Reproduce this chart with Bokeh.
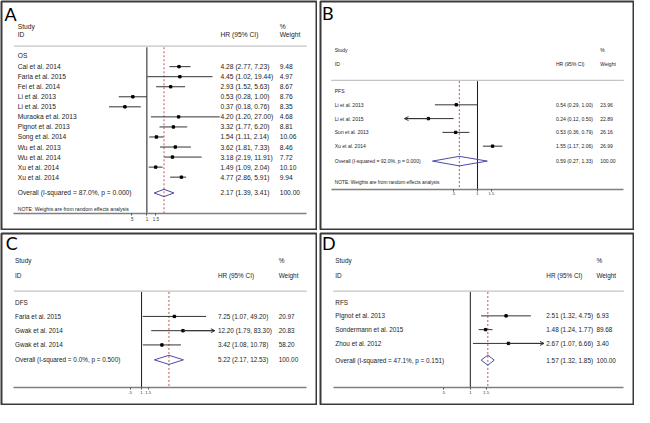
import math
from bokeh.plotting import figure
from bokeh.layouts import gridplot
from bokeh.models import Range1d, LogScale, LogAxis, FixedTicker, ColumnDataSource, Arrow, OpenHead
from bokeh.core.properties import value
from bokeh.embed import file_html
from bokeh.resources import INLINE

# ---------------- data ----------------
A_group = "OS"
A_studies = ["Cai et al. 2014", "Faria et al. 2015", "Fei et al. 2014", "Li et al. 2013",
             "Li et al. 2015", "Muraoka et al. 2013", "Pignot et al. 2013", "Song et al. 2014",
             "Wu et al. 2013", "Wu et al. 2014", "Xu et al. 2014", "Xu et al. 2014"]
A_hr = [4.28, 4.45, 2.93, 0.53, 0.37, 4.20, 3.32, 1.54, 3.62, 3.18, 1.49, 4.77]
A_lo = [2.77, 1.02, 1.52, 0.28, 0.18, 1.20, 1.77, 1.11, 1.81, 2.19, 1.09, 2.86]
A_hi = [7.23, 19.44, 5.63, 1.00, 0.76, 27.00, 6.20, 2.14, 7.33, 11.91, 2.04, 5.91]
A_wt = [9.48, 4.97, 8.67, 8.76, 8.35, 4.68, 8.81, 10.06, 8.46, 7.72, 10.10, 9.94]
A_clip = [0, 0, 0, 0, 0, 0, 0, 0, 0, 0, 0, 0]
A_overall = [2.17, 1.39, 3.41]   # HR, lower, upper
A_het = [87.0, 0.000]            # I-squared %, p

B_group = "PFS"
B_studies = ["Li et al. 2013", "Li et al. 2015", "Sun et al. 2013", "Xu et al. 2014"]
B_hr = [0.54, 0.24, 0.53, 1.55]
B_lo = [0.29, 0.12, 0.36, 1.17]
B_hi = [1.00, 0.50, 0.79, 2.06]
B_wt = [23.96, 22.89, 26.16, 26.99]
B_clip = [0, -1, 0, 0]
B_overall = [0.59, 0.27, 1.33]
B_het = [92.0, 0.000]

C_group = "DFS"
C_studies = ["Faria et al. 2015", "Gwak et al. 2014", "Gwak et al. 2014"]
C_hr = [7.25, 12.20, 3.42]
C_lo = [1.07, 1.79, 1.08]
C_hi = [49.20, 83.30, 10.78]
C_wt = [20.97, 20.83, 58.20]
C_clip = [0, 1, 0]
C_overall = [5.22, 2.17, 12.53]
C_het = [0.0, 0.500]

D_group = "RFS"
D_studies = ["Pignot et al. 2013", "Sondermann et al. 2015", "Zhou et al. 2012"]
D_hr = [2.51, 1.48, 2.67]
D_lo = [1.32, 1.24, 1.07]
D_hi = [4.75, 1.77, 6.66]
D_wt = [6.93, 89.68, 3.40]
D_clip = [0, 0, 1]
D_overall = [1.57, 1.32, 1.85]
D_het = [47.1, 0.151]

OVERALL_WEIGHT = "100.00"
TICKS = [0.5, 1, 1.5]
TICK_LABELS = [".5", "1", "1.5"]
NOTE = "NOTE: Weights are from random effects analysis"

# ---------------- layout (reference pixel geometry) ----------------
REF_W, REF_H = 650, 423
OUT_W, OUT_H = 634, 407
SX, SY = OUT_W / REF_W, OUT_H / REF_H
FS = (SX + SY) / 2
FONT = "Liberation Sans"

LAY = {
    "A": dict(rect=(0, 325, 0, 239), null=150.0, k=22.8, row0=68.3, pitch=10.53,
              study_y=25.7, id_y=34.3, line_y=46.7, group_y=56.7, overall_y=200.7,
              note_y=217.3, axis_y=222.7, vtop=48.0, lab_x=16.7, hr_x=226.0, w_x=287.0,
              lx0=12.7, lx1=315.0, fs=6.9, note_fs=5.3, tick_fs=4.6, dh=3.8,
              let_x=3.0, let_y=13.5),
    "B": dict(rect=(327, 650, 0, 239), null=489.0, k=35.5, row0=108.3, pitch=14.45,
              study_y=51.0, id_y=65.7, line_y=82.7, group_y=94.0, overall_y=167.3,
              note_y=189.3, axis_y=196.7, vtop=83.5, lab_x=341.7, hr_x=570.0, w_x=615.7,
              lx0=338.0, lx1=640.0, fs=5.2, note_fs=5.0, tick_fs=4.2, dh=5.0,
              let_x=328.5, let_y=12.5),
    "C": dict(rect=(0, 325, 241, 421), null=144.5, k=17.1, row0=328.3, pitch=15.0,
              study_y=269.3, id_y=285.0, line_y=301.7, group_y=313.3, overall_y=374.0,
              note_y=None, axis_y=403.3, vtop=302.5, lab_x=14.0, hr_x=223.3, w_x=286.0,
              lx0=12.7, lx1=315.0, fs=6.6, note_fs=5.3, tick_fs=4.4, dh=4.8,
              let_x=4.5, let_y=250.5),
    "D": dict(rect=(327, 650, 241, 421), null=481.6, k=40.1, row0=327.7, pitch=14.5,
              study_y=269.3, id_y=285.0, line_y=301.7, group_y=313.3, overall_y=374.3,
              note_y=None, axis_y=403.3, vtop=302.5, lab_x=342.3, hr_x=560.0, w_x=611.7,
              lx0=340.0, lx1=640.0, fs=6.6, note_fs=5.3, tick_fs=4.4, dh=5.3,
              let_x=328.5, let_y=250.5),
}

TXT_COLOR = "#222222"
CI_COLOR = "#333333"


def panel(letter, group, studies, hr, lo, hi, wt, clip, overall, het, lay):
    x0, x1, y0, y1 = lay["rect"]
    W = round((x1 - x0) * SX)
    H = round((y1 - y0) * SY)

    def row(ypx):
        return (ypx - lay["row0"]) / lay["pitch"]

    def hrv(xpx):
        return math.exp((xpx - lay["null"]) / lay["k"])

    p = figure(width=W, height=H, output_backend="svg", toolbar_location=None,
               x_range=Range1d(x0, x1), y_range=Range1d(row(y1), row(y0)),
               x_axis_location=None, y_axis_location=None, min_border=1)
    p.extra_x_ranges = {"hr": Range1d(hrv(x0), hrv(x1))}
    p.extra_x_scales = {"hr": LogScale()}
    p.grid.visible = False
    p.background_fill_color = "white"
    p.border_fill_color = "white"
    p.outline_line_color = "#3a3a3a"
    p.outline_line_width = 2

    n = len(studies)
    idx = list(range(n))
    fs = f"{lay['fs'] * FS:.2f}px"
    txt = dict(text_font=value(FONT), text_font_size=fs, text_baseline="middle",
               text_align="left", text_color=TXT_COLOR)

    # header
    p.text(x=[lay["lab_x"], lay["lab_x"], lay["hr_x"], lay["w_x"], lay["w_x"]],
           y=[row(lay["study_y"]), row(lay["id_y"]), row(lay["id_y"]),
              row(lay["study_y"]), row(lay["id_y"])],
           text=["Study", "ID", "HR (95% CI)", "%", "Weight"], **txt)
    p.segment(x0=[lay["lx0"]], x1=[lay["lx1"]], y0=[row(lay["line_y"])], y1=[row(lay["line_y"])],
              line_color="#c4c4c4", line_width=1.2)

    # group + studies
    p.text(x=[lay["lab_x"]], y=[row(lay["group_y"])], text=[group], **txt)
    p.text(x=[lay["lab_x"]] * n, y=idx, text=studies, **txt)
    p.text(x=[lay["hr_x"]] * n, y=idx,
           text=[f"{h:.2f} ({l:.2f}, {u:.2f})" for h, l, u in zip(hr, lo, hi)], **txt)
    p.text(x=[lay["w_x"]] * n, y=idx, text=[f"{w:.2f}" for w in wt], **txt)

    # overall row
    ovr = row(lay["overall_y"])
    p.text(x=[lay["lab_x"]], y=[ovr],
           text=[f"Overall  (I-squared = {het[0]:.1f}%, p = {het[1]:.3f})"], **txt)
    p.text(x=[lay["hr_x"]], y=[ovr],
           text=[f"{overall[0]:.2f} ({overall[1]:.2f}, {overall[2]:.2f})"], **txt)
    p.text(x=[lay["w_x"]], y=[ovr], text=[OVERALL_WEIGHT], **txt)

    if lay["note_y"] is not None:
        p.text(x=[lay["lab_x"]], y=[row(lay["note_y"])], text=[NOTE],
               text_font=value(FONT), text_font_size=f"{lay['note_fs'] * FS:.2f}px",
               text_baseline="middle", text_align="left", text_color=TXT_COLOR)

    # reference lines
    ytop, yax = row(lay["vtop"]), row(lay["axis_y"])
    p.segment(x0=[1], x1=[1], y0=[ytop], y1=[yax], x_range_name="hr",
              line_color="#1a1a1a", line_width=1)
    p.segment(x0=[overall[0]], x1=[overall[0]], y0=[ytop], y1=[yax], x_range_name="hr",
              line_color="#c0504d", line_width=1, line_dash="2 2")

    # CIs and points
    p.segment(x0=lo, x1=hi, y0=idx, y1=idx, x_range_name="hr", line_color=CI_COLOR, line_width=1)
    p.scatter(x=hr, y=idx, marker="square", size=2.4, color="black", x_range_name="hr")

    arr = [i for i, c in enumerate(clip) if c]
    if arr:
        src = ColumnDataSource(dict(
            xs=[hr[i] for i in arr],
            xe=[lo[i] if clip[i] < 0 else hi[i] for i in arr],
            y=[float(i) for i in arr]))
        p.add_layout(Arrow(end=OpenHead(size=4, line_color=CI_COLOR, line_width=1),
                           x_start="xs", y_start="y", x_end="xe", y_end="y", source=src,
                           x_range_name="hr", line_color=CI_COLOR, line_width=1))

    # overall diamond
    dh = lay["dh"] / lay["pitch"]
    p.patch(x=[overall[1], overall[0], overall[2], overall[0]],
            y=[ovr, ovr - dh, ovr, ovr + dh], x_range_name="hr",
            fill_alpha=0, line_color="#4b4ba6", line_width=1)

    # x axis (log scale)
    ax = LogAxis(x_range_name="hr", fixed_location=yax,
                 bounds=(hrv(lay["lx0"]), hrv(lay["lx1"])),
                 ticker=FixedTicker(ticks=TICKS),
                 major_label_overrides=dict(zip(TICKS, TICK_LABELS)),
                 axis_line_color="#7f7f7f", axis_line_width=1.5,
                 major_tick_line_color="#555555", major_tick_in=0, major_tick_out=2,
                 minor_tick_line_color=None, major_label_standoff=1,
                 major_label_text_font=FONT,
                 major_label_text_font_size=f"{lay['tick_fs'] * FS:.2f}px",
                 major_label_text_color="#333333")
    p.add_layout(ax, "below")

    # panel letter
    p.text(x=[lay["let_x"]], y=[row(lay["let_y"])], text=[letter],
           text_font=value("Lato"), text_font_size=f"{18.5 * FS:.1f}px",
           text_baseline="middle", text_align="left", text_color="black")
    return p


pA = panel("A", A_group, A_studies, A_hr, A_lo, A_hi, A_wt, A_clip, A_overall, A_het, LAY["A"])
pB = panel("B", B_group, B_studies, B_hr, B_lo, B_hi, B_wt, B_clip, B_overall, B_het, LAY["B"])
pC = panel("C", C_group, C_studies, C_hr, C_lo, C_hi, C_wt, C_clip, C_overall, C_het, LAY["C"])
pD = panel("D", D_group, D_studies, D_hr, D_lo, D_hi, D_wt, D_clip, D_overall, D_het, LAY["D"])

grid = gridplot([[pA, pB], [pC, pD]], toolbar_location=None)
try:
    grid.spacing = 2
except Exception:
    pass

open("out.html", "w").write(file_html(grid, INLINE))
